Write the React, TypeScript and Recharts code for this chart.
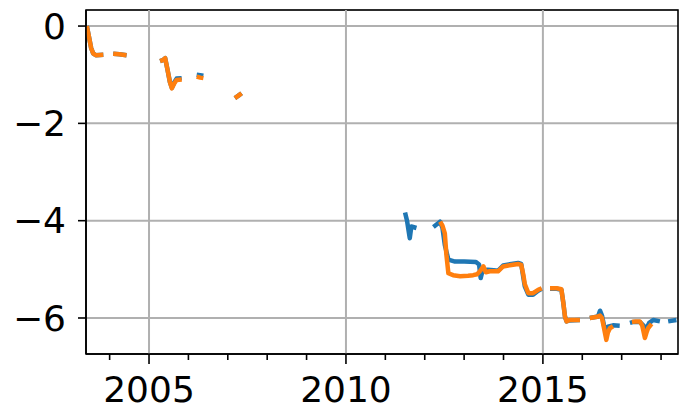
import React from "react";
import {
  LineChart,
  Line,
  XAxis,
  YAxis,
  CartesianGrid,
  ReferenceLine,
  ReferenceArea,
} from "recharts";

// year positions and values, null = gap in the trace
const blueYears = [
  2003.42, 2003.47, 2003.53, 2003.58, 2003.65, 2003.84, 2003.95,
  2004.09, 2004.25, 2004.43, 2004.8,
  2005.28, 2005.35, 2005.41, 2005.47, 2005.53, 2005.58, 2005.64, 2005.7, 2005.83, 2006.0,
  2006.21, 2006.3, 2006.38, 2006.8,
  2007.18, 2007.27, 2007.35, 2009.0,
  2011.5, 2011.55, 2011.62, 2011.66, 2011.79, 2012.0,
  2012.22, 2012.3, 2012.35, 2012.39, 2012.45, 2012.51, 2012.6, 2012.77, 2013.0, 2013.3,
  2013.38, 2013.42, 2013.47, 2013.6, 2013.75, 2013.86, 2013.99, 2014.2, 2014.37, 2014.45,
  2014.5, 2014.54, 2014.63, 2014.75, 2014.88, 2014.97, 2015.08,
  2015.18, 2015.35, 2015.47, 2015.52, 2015.56, 2015.6, 2015.68, 2015.94, 2016.05,
  2016.19, 2016.4, 2016.45, 2016.5, 2016.55, 2016.6, 2016.65, 2016.78, 2016.95, 2017.08,
  2017.21, 2017.3, 2017.46, 2017.55, 2017.62, 2017.7, 2017.8, 2017.97, 2018.08,
  2018.18, 2018.39,
];
const blueValues = [
  0.0, -0.2, -0.45, -0.56, -0.6, -0.59, null,
  -0.57, -0.58, -0.6, null,
  -0.72, -0.7, -0.66, -0.9, -1.15, -1.27, -1.16, -1.08, -1.07, null,
  -1.0, -1.01, -1.02, null,
  -1.48, -1.43, -1.38, null,
  -3.83, -4.0, -4.36, -4.12, -4.15, null,
  -4.13, -4.08, -4.05, -4.02, -4.15, -4.5, -4.8, -4.84, -4.84, -4.85,
  -4.9, -5.18, -5.02, -5.01, -5.02, -5.03, -4.92, -4.89, -4.87, -4.89,
  -5.15, -5.35, -5.52, -5.52, -5.44, -5.4, null,
  -5.4, -5.4, -5.42, -5.7, -5.97, -6.07, -6.05, -6.04, null,
  -6.0, -5.97, -5.85, -5.95, -6.15, -6.3, -6.18, -6.15, -6.16, null,
  -6.1, -6.08, -6.08, -6.15, -6.22, -6.1, -6.04, -6.07, null,
  -6.07, -6.04,
];

const orangeYears = [
  2003.42, 2003.47, 2003.53, 2003.58, 2003.65, 2003.84, 2003.95,
  2004.09, 2004.25, 2004.43, 2004.8,
  2005.28, 2005.35, 2005.41, 2005.47, 2005.53, 2005.58, 2005.64, 2005.7, 2005.83, 2006.0,
  2006.21, 2006.3, 2006.38, 2006.8,
  2007.18, 2007.27, 2007.35, 2010.0,
  2012.39, 2012.45, 2012.51, 2012.55, 2012.6, 2012.72, 2012.9, 2013.1, 2013.23, 2013.33,
  2013.4, 2013.49, 2013.55, 2013.65, 2013.86, 2013.99, 2014.2, 2014.37, 2014.45,
  2014.5, 2014.54, 2014.63, 2014.75, 2014.88, 2014.97, 2015.08,
  2015.18, 2015.35, 2015.47, 2015.52, 2015.56, 2015.6, 2015.68, 2015.94, 2016.05,
  2016.19, 2016.35, 2016.45, 2016.5, 2016.55, 2016.61, 2016.65, 2016.7, 2016.78, 2017.0,
  2017.26, 2017.35, 2017.46, 2017.52, 2017.59, 2017.63, 2017.67, 2017.76,
];
const orangeValues = [
  0.0, -0.2, -0.45, -0.56, -0.6, -0.59, null,
  -0.57, -0.58, -0.6, null,
  -0.72, -0.7, -0.66, -0.9, -1.15, -1.28, -1.18, -1.11, -1.1, null,
  -1.04, -1.06, -1.07, null,
  -1.48, -1.43, -1.38, null,
  -4.02, -4.1, -4.26, -4.7, -5.08, -5.12, -5.14, -5.13, -5.12, -5.1,
  -5.04, -4.94, -5.06, -5.04, -5.04, -4.94, -4.91, -4.89, -4.91,
  -5.1, -5.3, -5.49, -5.49, -5.42, -5.39, null,
  -5.39, -5.39, -5.41, -5.7, -5.97, -6.07, -6.04, -6.04, null,
  -6.0, -5.98, -5.95, -6.0, -6.2, -6.45, -6.3, -6.21, -6.17, null,
  -6.08, -6.07, -6.07, -6.15, -6.41, -6.3, -6.21, -6.12,
];

const xDomain = [2003.4, 2018.43];
const yDomain = [-6.74, 0.33];
const xMajorTicks = [2005, 2010, 2015];
const xAllTicks = [2004, 2005, 2006, 2007, 2008, 2009, 2010, 2011, 2012, 2013, 2014, 2015, 2016, 2017, 2018];
const yTicks = [0, -2, -4, -6];

const blueData = blueYears.map((x, i) => ({ x, v: blueValues[i] }));
const orangeData = orangeYears.map((x, i) => ({ x, v: orangeValues[i] }));

const font = "DejaVu Sans";

// tick with major/minor marks: labels only for major years
const XTick = (props: any) => {
  const { x, y, payload } = props;
  const major = xMajorTicks.includes(payload.value);
  const axisY = y - 21;
  return (
    <g>
      <line x1={x} x2={x} y1={axisY} y2={axisY + (major ? 10 : 6)} stroke="#000" strokeWidth={1.6} />
      {major && (
        <text x={x} y={y + 27} textAnchor="middle" fontSize={36} fontFamily={font} fill="#000">
          {payload.value}
        </text>
      )}
    </g>
  );
};

const fmtY = (v: number) => (v < 0 ? "\u2212" + Math.abs(v) : String(v));

export default function App() {
  return (
    <div style={{ position: "absolute", left: 0, top: 0, background: "#fff" }}>
      <LineChart width={680} height={410} margin={{ top: 10, right: 2, left: 0, bottom: 0 }}>
        <CartesianGrid vertical={false} stroke="#b0b0b0" strokeWidth={2} />
        {xMajorTicks.map((t) => (
          <ReferenceLine key={t} x={t} stroke="#b0b0b0" strokeWidth={2} />
        ))}
        <XAxis
          type="number"
          dataKey="x"
          domain={xDomain}
          ticks={xAllTicks}
          allowDataOverflow
          height={56}
          tickSize={10}
          tickMargin={11}
          tickLine={false}
          tick={<XTick />}
          axisLine={{ stroke: "#000", strokeWidth: 1.6 }}
          interval={0}
        />
        <YAxis
          type="number"
          domain={yDomain}
          ticks={yTicks}
          allowDataOverflow
          width={86}
          tickSize={8}
          tickMargin={12}
          tickFormatter={fmtY}
          tick={{ fill: "#000", fontSize: 36, fontFamily: font }}
          tickLine={{ stroke: "#000", strokeWidth: 1.6 }}
          axisLine={{ stroke: "#000", strokeWidth: 1.6 }}
          interval={0}
        />
        <Line
          data={blueData}
          dataKey="v"
          type="linear"
          stroke="#1f77b4"
          strokeWidth={4.5}
          strokeLinejoin="round"
          dot={false}
          connectNulls={false}
          isAnimationActive={false}
        />
        <Line
          data={orangeData}
          dataKey="v"
          type="linear"
          stroke="#ff7f0e"
          strokeWidth={4.5}
          strokeLinejoin="round"
          dot={false}
          connectNulls={false}
          isAnimationActive={false}
        />
        <ReferenceArea
          x1={xDomain[0]}
          x2={xDomain[1]}
          y1={yDomain[0]}
          y2={yDomain[1]}
          fill="none"
          stroke="#000"
          strokeWidth={1.6}
        />
      </LineChart>
    </div>
  );
}
